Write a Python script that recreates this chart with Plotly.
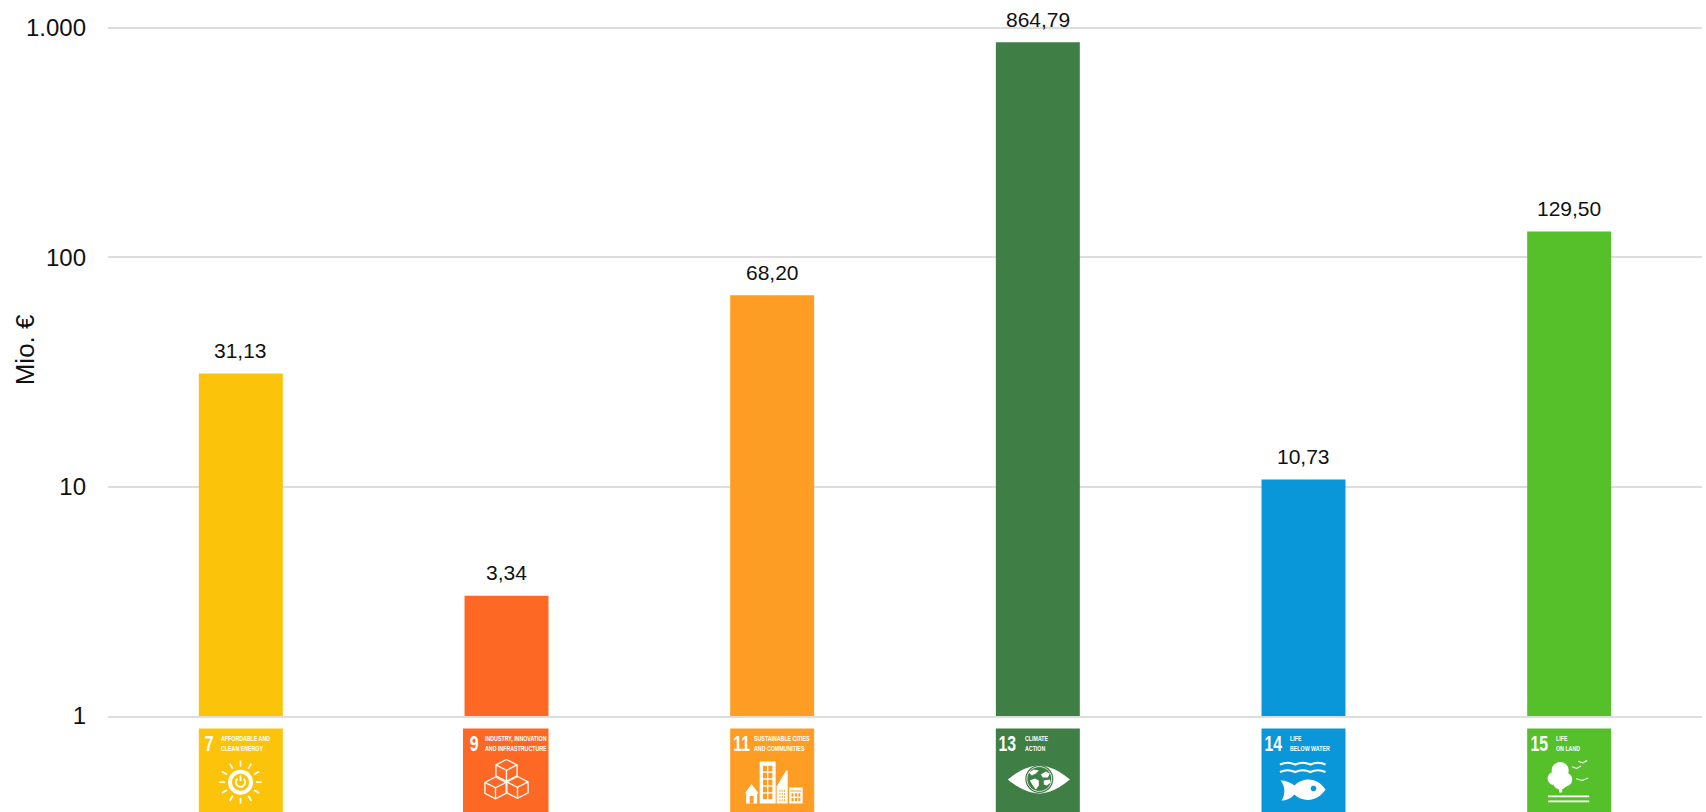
import math
import plotly.graph_objects as go

categories = ["SDG 7", "SDG 9", "SDG 11", "SDG 13", "SDG 14", "SDG 15"]
values = [31.13, 3.34, 68.20, 864.79, 10.73, 129.50]
value_labels = ["31,13", "3,34", "68,20", "864,79", "10,73", "129,50"]
colors = ["#FCC30B", "#FD6925", "#FD9D24", "#3F7E44", "#0A97D9", "#56C02B"]
tick_values = [1, 10, 100, 1000]
tick_labels = ["1", "10", "100", "1.000"]
goal_numbers = ["7", "9", "11", "13", "14", "15"]
goal_titles = [
    ("AFFORDABLE AND", "CLEAN ENERGY"),
    ("INDUSTRY, INNOVATION", "AND INFRASTRUCTURE"),
    ("SUSTAINABLE CITIES", "AND COMMUNITIES"),
    ("CLIMATE", "ACTION"),
    ("LIFE", "BELOW WATER"),
    ("LIFE", "ON LAND"),
]
title_offsets = [20, 18.5, 22, 27, 26, 27]
number_offsets = [10, 9, 11, 11.5, 12, 12]

TILE = 84
GAP = 12.5
WHITE = "#ffffff"


def pt(u, v):
    return f"{u - TILE / 2:.2f},{-(GAP + v):.2f}"


def poly(points, close=True):
    d = "M" + " L".join(pt(u, v) for u, v in points)
    return d + (" Z" if close else "")


def circle(cx, cy, r, n=36):
    return poly([(cx + r * math.cos(2 * math.pi * i / n), cy + r * math.sin(2 * math.pi * i / n)) for i in range(n)])


def arc(cx, cy, r, a0, a1, n=24):
    return poly(
        [(cx + r * math.cos(math.radians(a0 + (a1 - a0) * i / n)), cy + r * math.sin(math.radians(a0 + (a1 - a0) * i / n))) for i in range(n + 1)],
        close=False,
    )


def rect(x0, y0, x1, y1):
    return poly([(x0, y0), (x1, y0), (x1, y1), (x0, y1)])


def wave(x0, x1, y, amp, bumps):
    step = (x1 - x0) / bumps
    d = f"M{pt(x0, y)}"
    for i in range(bumps):
        a = x0 + i * step
        d += f" Q{pt(a + step / 2, y - amp * 2)} {pt(a + step, y)}"
    return d


def fill_shape(i, d, color=WHITE):
    return dict(type="path", xref="x", yref="paper", xsizemode="pixel", ysizemode="pixel",
                xanchor=i, yanchor=0, path=d, fillcolor=color, line=dict(width=0), layer="above")


def line_shape(i, d, width=1.4, color=WHITE):
    return dict(type="path", xref="x", yref="paper", xsizemode="pixel", ysizemode="pixel",
                xanchor=i, yanchor=0, path=d, line=dict(width=width, color=color), layer="above")


def cube(i, u, v, hw=10.6, dv=5.4, h=11):
    outer = poly([(u, v), (u + hw, v + dv), (u + hw, v + dv + h), (u, v + 2 * dv + h), (u - hw, v + dv + h), (u - hw, v + dv)])
    inner = poly([(u - hw, v + dv), (u, v + 2 * dv), (u + hw, v + dv)], close=False) + " " + poly([(u, v + 2 * dv), (u, v + 2 * dv + h)], close=False)
    return [fill_shape(i, outer, colors[i]), line_shape(i, outer + " " + inner, 1.3)]


def grid(i, x0, y0, x1, y1, cols, rows, color):
    out = []
    mx, my = 1.3, 1.3
    w = (x1 - x0 - mx * (cols + 1)) / cols
    h = (y1 - y0 - my * (rows + 1)) / rows
    for c in range(cols):
        for r in range(rows):
            a = x0 + mx + c * (w + mx)
            b = y0 + my + r * (h + my)
            out.append(fill_shape(i, rect(a, b, a + w, b + h), color))
    return out


def icon_energy(i):
    cx, cy = 41.7, 53.7
    s = [fill_shape(i, circle(cx, cy, 12.5)), fill_shape(i, circle(cx, cy, 8.5), colors[i])]
    s.append(line_shape(i, arc(cx, cy, 4.6, -50, 230), 1.7))
    s.append(line_shape(i, poly([(cx, cy - 7), (cx, cy - 1)], close=False), 1.8))
    for k in range(12):
        a = 2 * math.pi * k / 12
        s.append(line_shape(i, poly([(cx + 15.6 * math.cos(a), cy + 15.6 * math.sin(a)), (cx + 21.5 * math.cos(a), cy + 21.5 * math.sin(a))], close=False), 1.7))
    return s


def icon_industry(i):
    return cube(i, 42, 31) + cube(i, 31, 48.5) + cube(i, 53, 48)


def icon_cities(i):
    c = colors[i]
    s = [fill_shape(i, poly([(14.5, 65), (21.5, 55.5), (28.5, 65), (27, 65), (27, 75), (16, 75), (16, 65)]))]
    s.append(fill_shape(i, rect(19.5, 67.5, 23.5, 75), c))
    s.append(fill_shape(i, rect(29.5, 33, 45.5, 75)))
    s += grid(i, 31.5, 36, 43.5, 72, 2, 5, c)
    s.append(fill_shape(i, poly([(46.5, 58), (56, 42), (57.5, 42), (57.5, 75), (46.5, 75)])))
    s += grid(i, 48, 60, 56, 74, 3, 4, c)
    s.append(fill_shape(i, rect(59, 59, 72.5, 75)))
    s.append(fill_shape(i, rect(60, 62, 71.5, 63), c))
    s += grid(i, 60, 63.5, 71.5, 74, 3, 2, c)
    return s


def icon_climate(i):
    c = colors[i]
    eye = (f"M{pt(12, 51)} C{pt(27, 38)} {pt(40, 37)} {pt(43, 37)} C{pt(47, 37)} {pt(59, 38)} {pt(74, 51)} "
           f"C{pt(59, 64)} {pt(47, 65)} {pt(43, 65)} C{pt(40, 65)} {pt(27, 64)} {pt(12, 51)} Z")
    s = [fill_shape(i, eye)]
    s.append(fill_shape(i, circle(43.5, 50.5, 14), c))
    s.append(line_shape(i, circle(43.5, 50.5, 12.4), 0.8))
    blobs = [
        [(33, 44), (38, 41), (43, 42), (40, 45), (36, 47)],
        [(34, 52), (39, 50), (43, 52), (43, 57), (40, 61), (37, 57)],
        [(45, 46), (50, 43), (54, 45), (52, 49), (47, 49)],
        [(48, 52), (54, 51), (55, 54), (51, 57), (48, 56)],
    ]
    for b in blobs:
        s.append(fill_shape(i, poly(b)))
    return s


def icon_water(i):
    c = colors[i]
    s = [line_shape(i, wave(18.5, 64, 36, 1.8, 3), 2.1), line_shape(i, wave(18.5, 64, 43.5, 1.8, 3), 2.1)]
    fish = (f"M{pt(19, 52)} C{pt(25, 52)} {pt(29, 54)} {pt(33, 57)} C{pt(40, 50)} {pt(54, 47)} {pt(64, 61)} "
            f"C{pt(55, 75)} {pt(40, 73)} {pt(33, 66)} C{pt(29, 70)} {pt(25, 72)} {pt(20, 72)} C{pt(24, 66)} {pt(24, 58)} {pt(19, 52)} Z")
    s.append(fill_shape(i, fish))
    s.append(fill_shape(i, circle(52, 60, 2.8), c))
    return s


def icon_land(i):
    s = [fill_shape(i, circle(33, 42, 8.5)), fill_shape(i, circle(27, 50, 6.5)), fill_shape(i, circle(38, 51, 7)),
         fill_shape(i, circle(33, 54, 7)), fill_shape(i, rect(32, 54, 35, 64))]
    s.append(fill_shape(i, rect(21, 67, 62, 68.8)))
    s.append(fill_shape(i, rect(21, 72, 62, 73.8)))
    for x0, x1, y in [(45, 54, 39), (51, 60, 33.5), (49, 61, 51)]:
        m = (x0 + x1) / 2
        s.append(line_shape(i, poly([(x0, y - 0.8), (m, y + 1), (x1, y - 1.6)], close=False), 1.1))
    return s


fig = go.Figure(
    go.Bar(x=categories, y=values, width=0.316, marker=dict(color=colors, line=dict(width=0)),
           hoverinfo="x+y", showlegend=False)
)

annotations = []
for cat, val, lab in zip(categories, values, value_labels):
    annotations.append(dict(x=cat, y=math.log10(val), text=lab, showarrow=False, yshift=23,
                            font=dict(size=21, color="#111111"), xanchor="center", yanchor="middle"))

annotations.append(dict(xref="paper", yref="paper", x=0, y=0.53, text="Mio. €", textangle=-90, showarrow=False,
                        xanchor="center", yanchor="middle", xshift=-83, font=dict(size=26, color="#111111")))

shapes = []
builders = [icon_energy, icon_industry, icon_cities, icon_climate, icon_water, icon_land]
for i, build in enumerate(builders):
    left = -1.5 if i == 1 else 0
    shapes.append(fill_shape(i, rect(left, 0, TILE, TILE), colors[i]))
    shapes += build(i)
    annotations.append(dict(x=i, xref="x", y=0, yref="paper", text=f"<b>{goal_numbers[i]}</b>", showarrow=False,
                            xanchor="center", yanchor="middle", xshift=number_offsets[i] - TILE / 2, yshift=-(GAP + 15),
                            font=dict(size=22, color=WHITE), name="tile-number"))
    for line, v in zip(goal_titles[i], (10.3, 20.3)):
        annotations.append(dict(x=i, xref="x", y=0, yref="paper", text=f"<b>{line}</b>", showarrow=False,
                                xanchor="left", yanchor="middle", xshift=title_offsets[i] - TILE / 2, yshift=-(GAP + v),
                                font=dict(size=8, color=WHITE), name="tile-title"))

fig.update_layout(
    width=1706, height=812, margin=dict(l=108, r=4, t=25.6, b=95.5, pad=0, autoexpand=False),
    paper_bgcolor="white", plot_bgcolor="white", bargap=0.684,
    font=dict(family="Liberation Sans, Arial, sans-serif", color="#111111"),
    annotations=annotations, shapes=shapes, showlegend=False,
    xaxis=dict(type="category", showticklabels=False, ticks="", showgrid=False, zeroline=False,
               showline=True, linecolor="#dddddd", linewidth=2, range=[-0.5, 5.5]),
    yaxis=dict(type="log", range=[0, 3.008], tickvals=tick_values, ticktext=tick_labels, showgrid=True,
               gridcolor="#dddddd", gridwidth=2, zeroline=False, showline=False, ticks="",
               ticklabelstandoff=21, tickfont=dict(size=24, color="#111111")),
)

# The tile captions use a condensed face in the original: squeeze the real text horizontally.
post = """
document.body.style.margin='0';
document.documentElement.style.overflow='hidden';
document.querySelectorAll('.annotation-text').forEach(function(t){
  var fs=parseFloat(t.style.fontSize), b=t.getBBox();
  var white=(t.style.fill||'').indexOf('255, 255, 255')>=0;
  if(!white) return;
  var sx=fs<10?0.66:0.72;
  var ox=fs<10?b.x:b.x+b.width/2;
  t.setAttribute('transform','translate('+(ox*(1-sx))+',0) scale('+sx+',1)');
});
"""
fig.write_html("out.html", post_script=post, config={"displayModeBar": False})
